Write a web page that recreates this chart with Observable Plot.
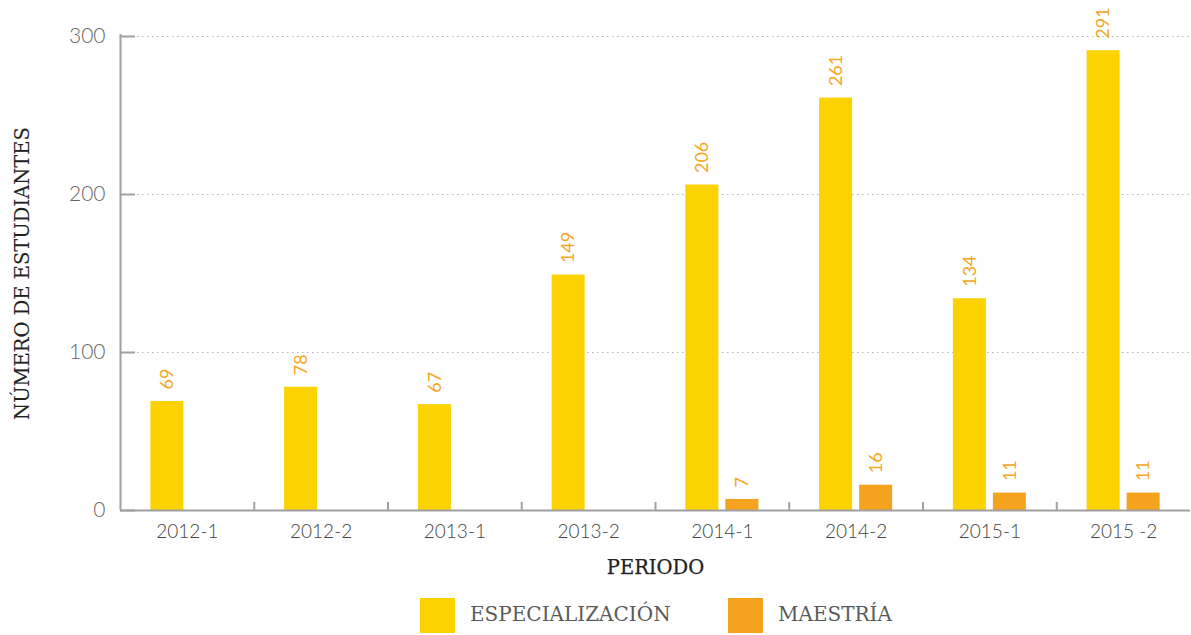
<!DOCTYPE html>
<html>
<head>
<meta charset="utf-8">
<script src="https://cdn.jsdelivr.net/npm/d3@7"></script>
<script src="https://cdn.jsdelivr.net/npm/@observablehq/plot@0.6"></script>
<style>
  html, body { margin: 0; padding: 0; background: #fff; }
  #legend { position: relative; width: 1191px; height: 45px; font-family: "DejaVu Serif", serif; }
  .sw { position: absolute; top: 8px; width: 35px; height: 35px; }
  .lt { position: absolute; top: 12px; font-size: 20px; color: #5a5a5a; letter-spacing: 0px; }
</style>
</head>
<body>
<div id="chart"></div>
<script>
const periods = ["2012-1", "2012-2", "2013-1", "2013-2", "2014-1", "2014-2", "2015-1", "2015 -2"];
const series = ["ESPECIALIZACIÓN", "MAESTRÍA"];
const especializacion = [69, 78, 67, 149, 206, 261, 134, 291];
const maestria = [null, null, null, null, 7, 16, 11, 11];
const yTicks = [0, 100, 200, 300];
const colors = ["#FCD200", "#F5A31E"];
const labelColor = "#F5A623";
const yTitle = "NÚMERO DE ESTUDIANTES";
const xTitle = "PERIODO";

const rows = [];
periods.forEach((p, i) => {
  if (especializacion[i] != null) rows.push({period: p, serie: series[0], value: especializacion[i]});
  if (maestria[i] != null) rows.push({period: p, serie: series[1], value: maestria[i]});
});

const W = 1191, H = 590, mL = 120, mR = 1, mT = 36, mB = 80;
const step = (W - mL - mR) / periods.length;
const barW = 33, gap = 7, outer = (step - 2 * barW - gap) / 2;
const frameH = H - mT - mB;

const esp = rows.filter(d => d.serie === series[0]);
const mae = rows.filter(d => d.serie === series[1]);

const chart = Plot.plot({
  width: W, height: H,
  marginLeft: mL, marginRight: mR, marginTop: mT, marginBottom: mB,
  style: {fontFamily: "Lato, sans-serif", background: "#fff"},
  x: {domain: periods, padding: 0, round: false, label: null},
  y: {domain: [0, 300], label: null},
  marks: [
    Plot.ruleY(yTicks.slice(1), {stroke: "#b5b5b5", strokeDasharray: "1.5,3.5", strokeWidth: 1.2, insetLeft: 17}),
    Plot.ruleY(yTicks, {stroke: "#a0a0a0", strokeWidth: 2, insetRight: (W - mL - mR) - 15}),
    Plot.barY(esp, {x: "period", y: "value", fill: colors[0], insetLeft: outer, insetRight: step - outer - barW}),
    Plot.barY(mae, {x: "period", y: "value", fill: colors[1], insetLeft: outer + barW + gap, insetRight: outer}),
    Plot.text(esp, {x: "period", y: "value", text: d => String(d.value), rotate: -90, textAnchor: "start",
      dx: outer + barW / 2 - step / 2, dy: -12, fill: labelColor, fontSize: 18}),
    Plot.text(mae, {x: "period", y: "value", text: d => String(d.value), rotate: -90, textAnchor: "start",
      dx: outer + barW + gap + barW / 2 - step / 2, dy: -12, fill: labelColor, fontSize: 18}),
    Plot.ruleY([0], {stroke: "#a0a0a0", strokeWidth: 2}),
    Plot.ruleX([periods[0]], {dx: -step / 2, stroke: "#a0a0a0", strokeWidth: 2, insetTop: -2}),
    Plot.ruleX(periods.slice(1), {dx: -step / 2, stroke: "#a0a0a0", strokeWidth: 2, insetTop: frameH - 8}),
    Plot.axisY({ticks: yTicks, tickSize: 0, tickPadding: 15, fontSize: 21, fill: "#666", fontWeight: 300, label: null}),
    Plot.axisX({tickSize: 0, tickPadding: 14, fontSize: 19, fill: "#444", fontWeight: 300, label: null}),
    Plot.text([yTitle], {frameAnchor: "left", textAnchor: "middle", dx: -98, rotate: -90, fontSize: 19.5, fill: "#222",
      stroke: "#222", strokeWidth: 0.1, fontFamily: "DejaVu Serif", text: d => d}),
    Plot.text([xTitle], {frameAnchor: "bottom", dy: 63, fontSize: 19.5, fill: "#222", stroke: "#222", strokeWidth: 0.25,
      fontFamily: "DejaVu Serif", text: d => d})
  ]
});
document.getElementById("chart").appendChild(chart);

const legend = document.createElement("div");
legend.id = "legend";
const pos = [[420, 470], [728, 778]];
series.forEach((s, i) => {
  const sw = document.createElement("div");
  sw.className = "sw"; sw.style.left = pos[i][0] + "px"; sw.style.background = colors[i];
  const t = document.createElement("div");
  t.className = "lt"; t.style.left = pos[i][1] + "px"; t.textContent = s;
  legend.appendChild(sw); legend.appendChild(t);
});
document.body.appendChild(legend);
</script>
</body>
</html>
